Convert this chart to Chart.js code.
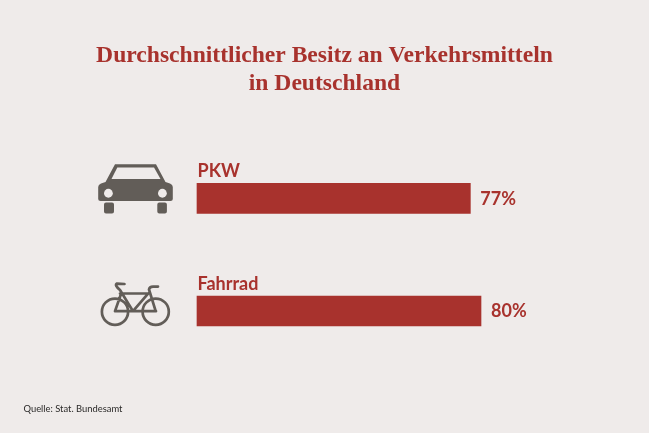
<!DOCTYPE html>
<html>
<head>
<meta charset="utf-8">
<title>Durchschnittlicher Besitz an Verkehrsmitteln</title>
<script src="https://cdn.jsdelivr.net/npm/chart.js@4/dist/chart.umd.min.js"></script>
<style>
  html, body { margin: 0; padding: 0; background: #efebea; }
  canvas { display: block; }
</style>
</head>
<body>
<canvas id="chart" width="649" height="433"></canvas>
<script>
const categories = ['PKW', 'Fahrrad'];
const shares = [77, 80];
const titleLines = ['Durchschnittlicher Besitz an Verkehrsmitteln', 'in Deutschland'];
const sourceText = 'Quelle: Stat. Bundesamt';

const red = '#a8322d';
const grey = '#625d58';
const bg = '#efebea';

// the bars start at x=197 with 3.55px per percent, the title stays centred on the full canvas
const axisMin = -197 / 3.55;
const axisMax = 452 / 3.55;

function drawCar(ctx, cy) {
  // icon coordinates are relative to the bar centre
  ctx.save();
  ctx.translate(0, cy - 198.5);
  ctx.fillStyle = grey;
  ctx.beginPath();
  ctx.moveTo(115, 164.3);
  ctx.lineTo(156, 164.3);
  ctx.lineTo(165.5, 182);
  ctx.lineTo(170, 183.5);
  ctx.quadraticCurveTo(172.8, 184.5, 172.8, 187);
  ctx.lineTo(172.8, 199);
  ctx.quadraticCurveTo(172.8, 201, 170.5, 201);
  ctx.lineTo(100.5, 201);
  ctx.quadraticCurveTo(98.2, 201, 98.2, 199);
  ctx.lineTo(98.2, 187);
  ctx.quadraticCurveTo(98.2, 184.5, 101, 183.5);
  ctx.lineTo(105.5, 182);
  ctx.closePath();
  ctx.fill();
  ctx.beginPath();
  ctx.roundRect(104, 202.5, 10, 11, 2);
  ctx.roundRect(157.3, 202.5, 9.6, 11, 2);
  ctx.fill();
  ctx.fillStyle = bg;
  ctx.beginPath();
  ctx.moveTo(117.3, 167.6);
  ctx.lineTo(154, 167.6);
  ctx.lineTo(160.5, 179);
  ctx.lineTo(111.5, 179);
  ctx.closePath();
  ctx.fill();
  ctx.beginPath();
  ctx.arc(108.4, 193.3, 4.4, 0, Math.PI * 2);
  ctx.fill();
  ctx.beginPath();
  ctx.arc(162.4, 193.3, 4.4, 0, Math.PI * 2);
  ctx.fill();
  ctx.restore();
}

function drawBike(ctx, cy) {
  ctx.save();
  ctx.translate(0, cy - 311);
  ctx.strokeStyle = grey;
  ctx.lineWidth = 2.7;
  ctx.lineCap = 'round';
  ctx.lineJoin = 'round';
  ctx.beginPath();
  ctx.arc(115, 311.7, 13.1, 0, Math.PI * 2);
  ctx.moveTo(168.8, 311.7);
  ctx.arc(155.7, 311.7, 13.1, 0, Math.PI * 2);
  // frame
  ctx.moveTo(115, 311.2);
  ctx.lineTo(156, 311.2);
  ctx.moveTo(115, 311.2);
  ctx.lineTo(121, 294);
  ctx.moveTo(120, 293.5);
  ctx.lineTo(148.3, 293.5);
  ctx.lineTo(133, 311.2);
  ctx.lineTo(120, 290);
  // saddle
  ctx.quadraticCurveTo(114, 285, 117, 283.6);
  ctx.lineTo(124.5, 284);
  // fork and bar
  ctx.moveTo(155.7, 311.2);
  ctx.lineTo(149, 289.5);
  ctx.quadraticCurveTo(149.5, 286.6, 153, 286.6);
  ctx.lineTo(158, 286.6);
  ctx.stroke();
  ctx.restore();
}

const icons = [drawCar, drawBike];

const labelsPlugin = {
  id: 'barLabels',
  afterDatasetsDraw(chart) {
    const ctx = chart.ctx;
    const x = chart.scales.x;
    const y = chart.scales.y;
    ctx.save();
    categories.forEach((name, i) => {
      const cy = y.getPixelForValue(i);
      ctx.fillStyle = red;
      ctx.font = 'bold 18px Lato';
      ctx.textBaseline = 'alphabetic';
      ctx.textAlign = 'left';
      ctx.fillText(name, 197.5, cy - 21);
      ctx.fillText(shares[i] + '%', x.getPixelForValue(shares[i]) + 10, cy + 6.5);
      icons[i](ctx, cy);
    });
    ctx.fillStyle = '#2b2a29';
    ctx.font = '9.4px Lato';
    ctx.textAlign = 'left';
    ctx.fillText(sourceText, 23.5, 412);
    ctx.restore();
  }
};

const backgroundPlugin = {
  id: 'pageBg',
  beforeDraw(chart) {
    chart.ctx.save();
    chart.ctx.fillStyle = bg;
    chart.ctx.fillRect(0, 0, chart.width, chart.height);
    chart.ctx.restore();
  }
};

new Chart(document.getElementById('chart'), {
  type: 'bar',
  data: {
    labels: categories,
    datasets: [{
      data: shares,
      backgroundColor: red,
      barThickness: 30,
      borderWidth: 0
    }]
  },
  options: {
    indexAxis: 'y',
    responsive: false,
    animation: false,
    layout: {
      padding: { left: 0, right: 0, top: 0, bottom: 65.75 }
    },
    scales: {
      x: { display: false, min: axisMin, max: axisMax },
      y: { display: false }
    },
    plugins: {
      legend: { display: false },
      tooltip: { enabled: false },
      title: {
        display: true,
        text: titleLines,
        color: red,
        font: { family: 'Liberation Serif', size: 23.6, weight: 'bold', lineHeight: 1.19 },
        padding: { top: 41.5, bottom: 44.5 }
      }
    }
  },
  plugins: [backgroundPlugin, labelsPlugin]
});
</script>
</body>
</html>
